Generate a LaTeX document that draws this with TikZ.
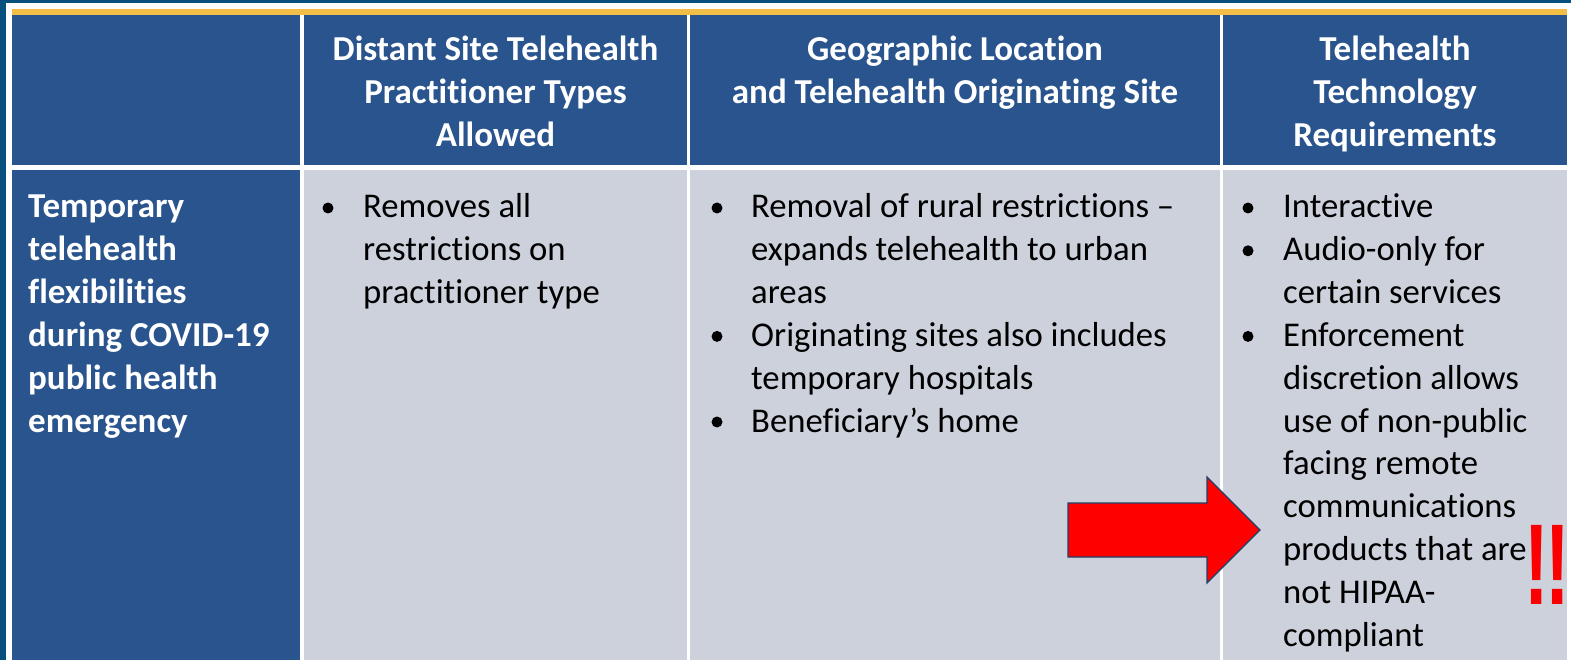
\documentclass[tikz,border=0pt]{standalone}
\usepackage{fontspec}
\setmainfont[Ligatures=NoCommon]{Carlito}
\newfontfamily\bangfont[FakeStretch=0.64]{Liberation Sans Bold}
\definecolor{outerblue}{RGB}{8,80,125}
\definecolor{hdrblue}{RGB}{41,84,141}
\definecolor{cellgray}{RGB}{205,209,220}
\definecolor{goldbar}{RGB}{242,190,72}
\definecolor{arrowedge}{RGB}{30,65,105}
\definecolor{bangred}{RGB}{250,0,0}
\begin{document}
\begin{tikzpicture}[x=1pt,y=-1pt,
  hdr/.style={inner sep=0, font=\fontsize{35}{42.8}\selectfont\bfseries, text=white, anchor=base},
  lbl/.style={inner sep=0, font=\fontsize{35}{42.8}\selectfont\bfseries, text=white, anchor=base west},
  body/.style={inner sep=0, font=\fontsize{34.7}{42.8}\selectfont, text=black, anchor=base west},
  dot/.style={circle, fill=black, draw=none, inner sep=0, minimum size=11pt}]
\useasboundingbox (0,0) rectangle (1571,660);
\fill[white] (0,0) rectangle (1571,660);
% outer frame
\fill[outerblue] (0,0) rectangle (1571,3);
\fill[outerblue] (0,0) rectangle (6,660);
% gold bar
\fill[goldbar] (12,9) rectangle (1567,15.5);
% header cells
\fill[hdrblue] (12,15) rectangle (300,165);
\fill[hdrblue] (304,15) rectangle (687,165);
\fill[hdrblue] (690,15) rectangle (1220,165);
\fill[hdrblue] (1223,15) rectangle (1567,165);
% body cells
\fill[hdrblue] (12,170) rectangle (300,660);
\fill[cellgray] (304,170) rectangle (687,660);
\fill[cellgray] (690,170) rectangle (1220,660);
\fill[cellgray] (1223,170) rectangle (1567,660);
% header texts
\foreach \t [count=\i] in {Distant Site Telehealth, Practitioner Types, Allowed}
  \node[hdr] (h2-\i) at (495.5,{61+(\i-1)*42.8}) {\t};
\foreach \t [count=\i] in {Geographic Location, and Telehealth Originating Site}
  \node[hdr] (h3-\i) at (955,{61+(\i-1)*42.8}) {\t};
\foreach \t [count=\i] in {Telehealth, Technology, Requirements}
  \node[hdr] (h4-\i) at (1395,{61+(\i-1)*42.8}) {\t};
% row label
\foreach \t [count=\i] in {Temporary, telehealth, flexibilities, during COVID-19, public health, emergency}
  \node[lbl] (r-\i) at (28,{218+(\i-1)*42.8}) {\t};
% column 2
\node[dot] (b2-1) at (328,208) {};
\foreach \t [count=\i] in {Removes all, restrictions on, practitioner type}
  \node[body] (c2-\i) at (363,{218+(\i-1)*42.8}) {\t};
% column 3
\node[dot] (b3-1) at (717,208) {};
\node[dot] (b3-2) at (717,{208+3*42.8}) {};
\node[dot] (b3-3) at (717,{208+5*42.8}) {};
\foreach \t [count=\i] in {Removal of rural restrictions –, expands telehealth to urban, areas, Originating sites also includes, temporary hospitals, Beneficiary’s home}
  \node[body] (c3-\i) at (751,{218+(\i-1)*42.8}) {\t};
% column 4
\node[dot] (b4-1) at (1248,208) {};
\node[dot] (b4-2) at (1248,{208+1*42.8}) {};
\node[dot] (b4-3) at (1248,{208+3*42.8}) {};
\foreach \t [count=\i] in {Interactive, Audio-only for, certain services, Enforcement, discretion allows, use of non-public, facing remote, communications, products that are, not HIPAA-, compliant}
  \node[body] (c4-\i) at (1283,{218+(\i-1)*42.8}) {\t};
% red arrow
\fill[red, draw=arrowedge, line width=1.3pt, line join=miter]
  (1068,503) -- (1207,503) -- (1207,477) -- (1260,530) -- (1207,583) -- (1207,557) -- (1068,557) -- cycle;
% exclamation marks
\node[inner sep=0, anchor=base east, text=bangred, font=\bangfont\fontsize{115}{115}\selectfont] (bang) at (1570.5,604) {!\kern-3.5pt!};
\end{tikzpicture}
\end{document}
